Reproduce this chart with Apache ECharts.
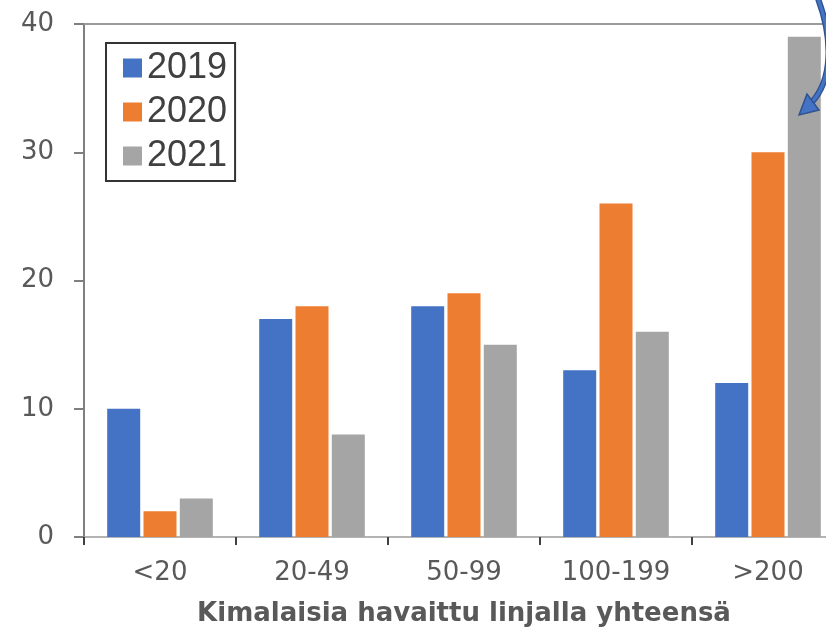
<!DOCTYPE html>
<html>
<head>
<meta charset="utf-8">
<script src="https://cdn.jsdelivr.net/npm/echarts@6/dist/echarts.min.js"></script>
<style>html,body{margin:0;padding:0;background:#fff;}#c{width:826px;height:635px;}</style>
</head>
<body>
<div id="c"></div>
<script>
const categories = ['<20', '20-49', '50-99', '100-199', '>200'];
const seriesNames = ['2019', '2020', '2021'];
const values2019 = [10, 17, 18, 13, 12];
const values2020 = [2, 18, 19, 26, 30];
const values2021 = [3, 8, 15, 16, 39];
const yTicks = [0, 10, 20, 30, 40];
const axisTitle = 'Kimalaisia havaittu linjalla yhteensä';

const colors = ['#4472c4', '#ed7d31', '#a5a5a5'];
const font = 'Liberation Sans, Arial, sans-serif';
const wide = 'DejaVu Sans, sans-serif';

const chart = echarts.init(document.getElementById('c'), null, {renderer: 'canvas'});
const mk = (name, data, i) => ({
  name, type: 'bar', data, barWidth: 33, barGap: '10%',
  itemStyle: {color: colors[i]}, xAxisIndex: 0
});
const arrowPath = {x1: 817, y1: -4, cpx1: 834, cpy1: 40, cpx2: 832, cpy2: 80, x2: 812, y2: 102};
chart.setOption({
  animation: false,
  backgroundColor: '#fff',
  grid: {left: 84, top: 24, width: 760, bottom: 98, containLabel: false, outerBoundsMode: 'none'},
  legend: {
    data: seriesNames, orient: 'vertical', left: 106, top: 43,
    padding: [7, 8, 7, 17], itemGap: 8, itemWidth: 19, itemHeight: 19,
    borderColor: '#333', borderWidth: 2,
    icon: 'rect',
    textStyle: {fontSize: 36, color: '#404040', fontFamily: font}
  },
  xAxis: [{
    type: 'category', data: categories,
    axisLine: {lineStyle: {color: '#9a9a9a', width: 1.5}},
    axisTick: {show: true, alignWithLabel: false, length: 8, lineStyle: {color: '#404040', width: 2}},
    axisLabel: {fontSize: 26, color: '#595959', fontFamily: wide, margin: 23},
    name: axisTitle, nameLocation: 'middle', nameGap: 64,
    nameTextStyle: {fontSize: 26, fontWeight: 'bold', color: '#595959', fontFamily: wide}
  }, {
    type: 'category', data: categories, position: 'top',
    axisLine: {show: true, lineStyle: {color: '#9a9a9a', width: 2}},
    axisTick: {show: false}, axisLabel: {show: false}
  }],
  yAxis: {
    type: 'value', min: yTicks[0], max: yTicks[yTicks.length - 1], interval: 10,
    axisLine: {show: true, lineStyle: {color: '#7f7f7f', width: 2}},
    axisTick: {show: true, length: 10, lineStyle: {color: '#7f7f7f', width: 2}},
    splitLine: {show: false},
    axisLabel: {fontSize: 26, color: '#595959', fontFamily: wide, margin: 30}
  },
  series: [mk(seriesNames[0], values2019, 0), mk(seriesNames[1], values2020, 1), mk(seriesNames[2], values2021, 2)],
  graphic: [{
    type: 'bezierCurve', shape: arrowPath,
    style: {stroke: '#2f528f', lineWidth: 6, fill: null}, z: 100
  }, {
    type: 'bezierCurve', shape: arrowPath,
    style: {stroke: '#4472c4', lineWidth: 3.5, fill: null}, z: 101
  }, {
    type: 'polygon',
    shape: {points: [[799, 115], [807, 94], [819, 110]]},
    style: {fill: '#4472c4', stroke: '#2f528f', lineWidth: 1.5}, z: 102
  }]
});
</script>
</body>
</html>
